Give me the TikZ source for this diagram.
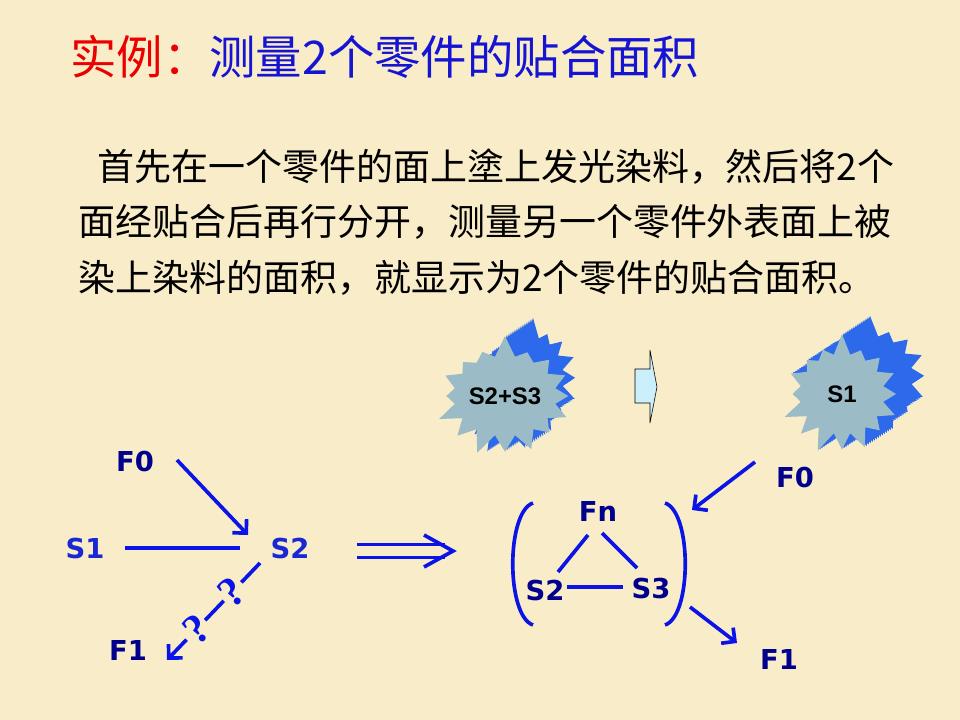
\documentclass[tikz,border=0pt]{standalone}
\usepackage{fontspec}
\newfontfamily\cjk{Noto Sans CJK SC}
\newfontfamily\labelfont{DejaVu Sans}
\newfontfamily\burstfont{Liberation Sans}
\newfontfamily\qfont{Liberation Serif}
\usetikzlibrary{calc,positioning,arrows.meta,shapes.symbols}
\definecolor{bg}{RGB}{249,236,201}
\definecolor{navy}{RGB}{0,0,140}
\definecolor{sblue}{RGB}{25,40,210}
\definecolor{lineblue}{RGB}{10,20,230}
\definecolor{face}{RGB}{155,188,198}
\definecolor{ext}{RGB}{45,105,235}
\definecolor{titlered}{RGB}{235,0,0}
\definecolor{titleblue}{RGB}{20,20,210}
\tikzstyle{lbl} = [inner sep=0pt, text=navy,
font=\labelfont\bfseries\fontsize{19.5}{22}\selectfont]
\tikzstyle{conn} = [draw=lineblue, line width=2.6pt]
\tikzstyle{arrowline} = [conn, -{Straight Barb[length=7pt,width=14pt]}]
\tikzstyle{qmark} = [inner sep=0pt, text=lineblue, rotate=40,
font=\qfont\bfseries\fontsize{30}{32}\selectfont]
\tikzstyle{burst} = [starburst, starburst points=16,
starburst point height=0.55cm, random starburst=7,
minimum width=2.6cm, minimum height=3.1cm, inner sep=0pt]
\tikzstyle{body} = [anchor=base west, inner sep=0pt,
font=\cjk\fontsize{26.3}{30}\selectfont]

\begin{document}
\begin{tikzpicture}[x=0.025cm, y=-0.025cm]
    \useasboundingbox (0,0) rectangle (960,720);
    \fill[bg] (0,0) rectangle (960,720);

    \node[anchor=base west, inner sep=0pt, text=titleblue,
      font=\cjk\fontsize{33}{36}\selectfont] (title) at (70,75)
      {\textcolor{titlered}{实例：}测量2个零件的贴合面积};

    \node[body] (line1) at (97,181) {首先在一个零件的面上塗上发光染料，然后将2个};
    \node[body] (line2) at (78,236) {面经贴合后再行分开，测量另一个零件外表面上被};
    \node[body] (line3) at (78,292) {染上染料的面积，就显示为2个零件的贴合面积。};

    % starbursts, extruded by stacking copies
    \coordinate (cL) at (505,396);
    \coordinate (cR) at (842,394);
    \foreach \i in {14,...,1} {
      \node[burst, fill=ext] (extL\i) at ($(cL)+(2*\i,-1.3*\i)$) {};
      \node[burst, fill=ext, minimum width=3.2cm] (extR\i) at ($(cR)+(2*\i,-1.3*\i)$) {};
    }
    \node[burst, fill=face, font=\burstfont\bfseries\fontsize{17}{19}\selectfont] (burstL) at (cL) {S2+S3};
    \node[burst, fill=face, minimum width=3.2cm, font=\burstfont\bfseries\fontsize{17}{19}\selectfont] (burstR) at (cR) {S1};

    % block arrow between the bursts
    \draw[fill=cyan!20, thin] (635,369) -- (650,369) -- (650,350) -- (657,387)
      -- (650,423) -- (650,403) -- (635,403) -- cycle;

    % left diagram
    \node[lbl]              (F0) at (135,462) {F0};
    \node[lbl, text=sblue]  (S1) at (85,549)  {S1};
    \node[lbl, text=sblue]  (S2) at (290,549) {S2};
    \node[lbl]              (F1) at (128,651) {F1};

    \draw[arrowline] ($(F0)+(42,-2)$) -- ($(S2)+(-42,-14)$);
    \draw[conn] ($(S1)+(40,-1)$) -- ($(S2)+(-50,-1)$);

    \coordinate (qa) at ($(S2)+(-30,14)$);
    \coordinate (qb) at ($(F1)+(39,9)$);
    \draw[conn] (qa) -- ($(qa)!0.2!(qb)$);
    \node[qmark] (q1) at ($(qa)!0.30!(qb)$) {?};
    \draw[conn] ($(qa)!0.39!(qb)$) -- ($(qa)!0.59!(qb)$);
    \node[qmark] (q2) at ($(qa)!0.68!(qb)$) {?};
    \draw[arrowline] ($(qa)!0.79!(qb)$) -- (qb);

    % big implication arrow
    \coordinate (impA) at ($(S2)+(67,2)$);
    \coordinate (impB) at ($(S2)+(163,2)$);
    \draw[conn, line width=2.4pt, double=bg, double distance=6.5pt] (impA) -- ($(impB)+(-8,0)$);
    \draw[conn, line width=2.6pt] ($(impB)+(-29,-16)$) -- (impB) -- ($(impB)+(-29,16)$);

    % right diagram
    \node[lbl] (Fn)  at (598,512) {Fn};
    \node[lbl] (S2r) at (545,591) {S2};
    \node[lbl] (S3)  at (651,589) {S3};
    \node[lbl] (F0r) at (795,478) {F0};
    \node[lbl] (F1r) at (779,660) {F1};

    \draw[conn] ($(Fn)+(-10,23)$) -- ($(S2r)+(13,-19)$);
    \draw[conn] ($(Fn)+(4,21)$) -- ($(S3)+(-14,-21)$);
    \draw[conn] ($(S2r)+(22,-4)$) -- ($(S3)+(-28,-2)$);

    \draw[conn] (533,503) .. controls (506,512) and (506,616) .. (533,625);
    \draw[conn] (665,503) .. controls (692,512) and (692,616) .. (665,625);

    \coordinate (brtop) at (692,510);
    \coordinate (brbot) at (690,607);
    \draw[arrowline] ($(F0r)+(-40,-16)$) -- (brtop);
    \draw[arrowline] (brbot) -- ($(F1r)+(-42,-17)$);
\end{tikzpicture}
\end{document}
